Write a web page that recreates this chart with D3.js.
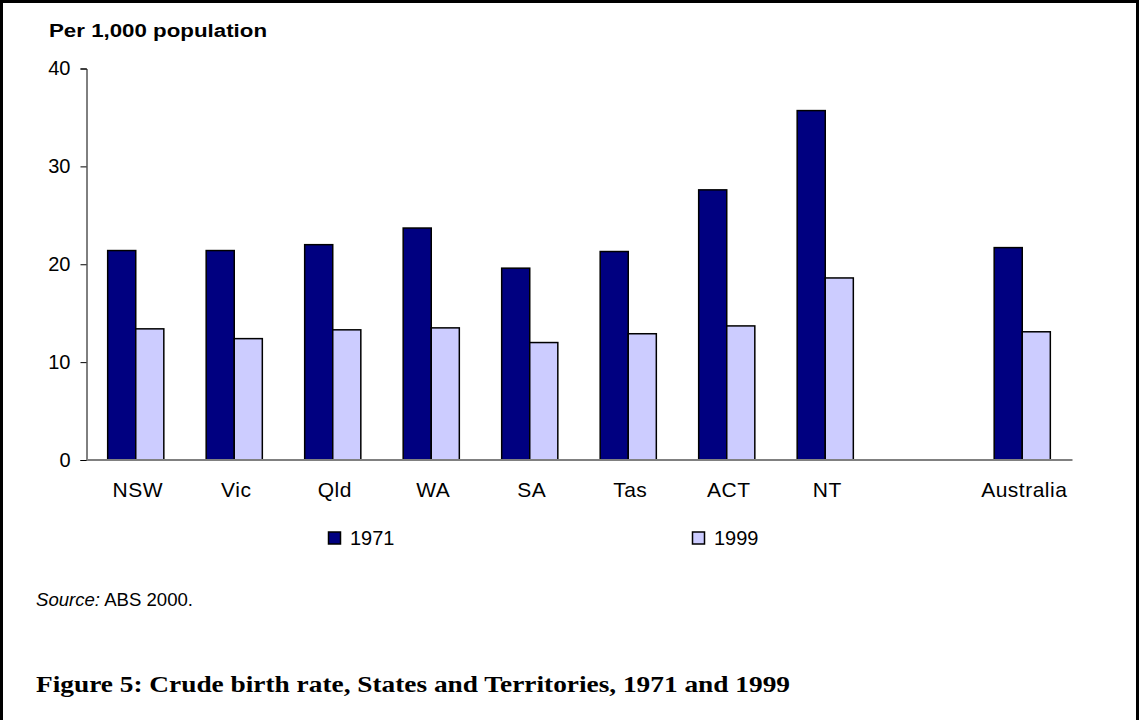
<!DOCTYPE html>
<html>
<head>
<meta charset="utf-8">
<script src="https://cdn.jsdelivr.net/npm/d3@7"></script>
<style>
  body { margin: 0; background: #fff; }
  svg { display: block; }
</style>
</head>
<body>
<script>
// chart data
var states = ["NSW", "Vic", "Qld", "WA", "SA", "Tas", "ACT", "NT", "", "Australia"];
var years = ["1971", "1999"];
var rate1971 = [21.4, 21.4, 22.0, 23.7, 19.6, 21.3, 27.6, 35.7, null, 21.7];
var rate1999 = [13.4, 12.4, 13.3, 13.5, 12.0, 12.9, 13.7, 18.6, null, 13.1];
var yTicks = [0, 10, 20, 30, 40];

var width = 1139, height = 720;
var margin = {top: 68.5, left: 86.5, right: 67.5, bottom: 260};

var colors = {"1971": "#000080", "1999": "#ccccff"};

var svg = d3.select("body").append("svg")
    .attr("width", width)
    .attr("height", height);

// frame round the whole figure (bottom edge runs off the page)
svg.append("rect")
    .attr("x", 1.5).attr("y", 1.5)
    .attr("width", width - 3).attr("height", height + 10)
    .attr("fill", "none")
    .attr("stroke", "#000")
    .attr("stroke-width", 3);

var x = d3.scaleBand()
    .domain(d3.range(states.length))
    .range([margin.left, width - margin.right])
    .paddingInner(0.43)
    .paddingOuter(0.215);

var x1 = d3.scaleBand()
    .domain(years)
    .range([0, x.bandwidth()]);

var y = d3.scaleLinear()
    .domain([0, 40])
    .range([height - margin.bottom, margin.top]);

var font = "'Liberation Sans', Arial, sans-serif";

// y axis
var yAxis = svg.append("g")
    .attr("transform", "translate(" + margin.left + ",0)")
    .call(d3.axisLeft(y).tickValues(yTicks).tickSize(6).tickPadding(10));
yAxis.select(".domain").attr("stroke", "#000");
yAxis.selectAll("text")
    .style("font-family", font)
    .style("font-size", "20px")
    .attr("dy", "0.3em")
    .attr("fill", "#000");

svg.append("text")
    .attr("x", 49).attr("y", 37)
    .attr("textLength", 218)
    .attr("lengthAdjust", "spacingAndGlyphs")
    .style("font-family", font)
    .style("font-size", "17.5px")
    .style("font-weight", "bold")
    .text("Per 1,000 population");

// bars
var rows = states.map(function(s, i) {
    return {i: i, name: s, values: [rate1971[i], rate1999[i]]};
});

var groups = svg.selectAll(".grp")
    .data(rows)
    .enter().append("g")
    .attr("class", "grp")
    .attr("transform", function(d) { return "translate(" + x(d.i) + ",0)"; });

groups.selectAll("rect")
    .data(function(d) {
        return years.map(function(yr, k) { return {year: yr, value: d.values[k]}; })
            .filter(function(v) { return v.value != null; });
    })
    .enter().append("rect")
    .attr("x", function(d) { return x1(d.year); })
    .attr("y", function(d) { return y(d.value); })
    .attr("width", x1.bandwidth())
    .attr("height", function(d) { return y(0) - y(d.value); })
    .attr("fill", function(d) { return colors[d.year]; })
    .attr("stroke", "#000")
    .attr("stroke-width", 1.5);

// x axis base line (gray)
svg.append("line")
    .attr("x1", margin.left).attr("x2", width - margin.right + 1)
    .attr("y1", y(0)).attr("y2", y(0))
    .attr("stroke", "#808080")
    .attr("stroke-width", 2);

svg.selectAll(".xlab")
    .data(rows)
    .enter().append("text")
    .attr("class", "xlab")
    .attr("x", function(d) { return x(d.i) + x.bandwidth() / 2 + 2; })
    .attr("y", 496.5)
    .attr("text-anchor", "middle")
    .style("font-family", font)
    .style("font-size", "21px")
    .style("letter-spacing", "0.5px")
    .text(function(d) { return d.name; });

// legend
var legX = [328.5, 692.5];
var leg = svg.selectAll(".leg")
    .data(years)
    .enter().append("g")
    .attr("class", "leg")
    .attr("transform", function(d, i) { return "translate(" + legX[i] + ",532)"; });

leg.append("rect")
    .attr("width", 12).attr("height", 12)
    .attr("fill", function(d) { return colors[d]; })
    .attr("stroke", "#000")
    .attr("stroke-width", 1.5);

leg.append("text")
    .attr("x", 21.5).attr("y", 13)
    .style("font-family", font)
    .style("font-size", "20px")
    .text(function(d) { return d; });

// source + caption
var src = svg.append("text")
    .attr("x", 36).attr("y", 606)
    .attr("textLength", 157)
    .attr("lengthAdjust", "spacingAndGlyphs")
    .style("font-family", font)
    .style("font-size", "18px");
src.append("tspan").style("font-style", "italic").text("Source:");
src.append("tspan").text(" ABS 2000.");

svg.append("text")
    .attr("x", 36).attr("y", 692)
    .attr("textLength", 754)
    .attr("lengthAdjust", "spacingAndGlyphs")
    .style("font-family", "'Liberation Serif', 'DejaVu Serif', serif")
    .style("font-size", "22.5px")
    .style("font-weight", "bold")
    .text("Figure 5: Crude birth rate, States and Territories, 1971 and 1999");
</script>
</body>
</html>
